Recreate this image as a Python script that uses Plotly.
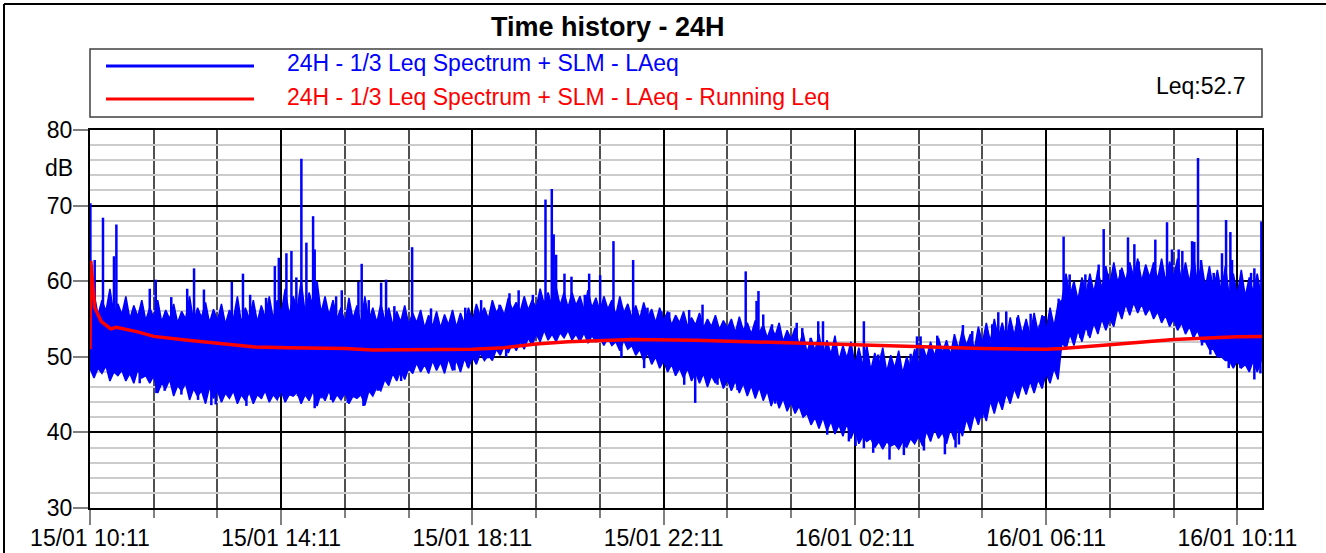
import pandas as pd
import plotly.graph_objects as go

START = pd.Timestamp("2020-01-15 10:11")
END_MIN = 1471

# ---- LAeq dense core band: 10-minute bins (minutes after 15/01 10:11) ----
band_min = list(range(0, 1480, 10))
band_high = [
    56.0, 55.5, 56.0, 55.5, 55.6, 55.0, 55.3, 54.8, 55.2, 54.6,
    55.0, 54.5, 55.0, 54.6, 55.2, 54.5, 54.8, 54.3, 55.0, 54.5,
    55.0, 54.6, 55.2, 55.0, 55.8, 55.5, 56.2, 55.8, 56.5, 55.8,
    55.5, 55.0, 54.5, 55.0, 54.3, 54.8, 54.5, 54.8, 54.2, 54.6,
    54.3, 54.5, 53.8, 54.0, 53.8, 54.2, 53.9, 54.3, 54.8, 55.3,
    55.0, 55.8, 55.5, 56.2, 56.0, 56.2, 56.5, 57.0, 56.5, 56.8,
    56.5, 56.8, 56.2, 56.5, 56.0, 56.3, 55.5, 55.8, 55.2, 55.0,
    55.2, 54.5, 54.8, 54.2, 54.5, 54.0, 54.2, 53.8, 54.0, 53.6,
    53.8, 53.2, 53.5, 53.0, 53.2, 52.5, 52.8, 52.0, 52.3, 51.5,
    50.5, 50.8, 50.0, 50.3, 49.5, 49.8, 49.0, 48.8, 48.2, 48.8,
    48.0, 48.5, 47.8, 48.5, 48.8, 49.8, 50.0, 50.5, 50.2, 51.0,
    51.5, 51.0, 51.8, 52.0, 52.5, 52.2, 52.8, 53.0, 52.8, 53.2,
    53.5, 54.0, 57.5, 58.0, 57.5, 58.2, 58.5, 59.0, 59.5, 59.8,
    60.0, 60.5, 60.0, 60.5, 60.2, 60.0, 60.5, 60.0, 59.8, 59.5,
    59.2, 58.8, 58.5, 58.0, 58.2, 58.0, 58.5, 58.0,
]
band_low = [
    48.5, 48.5, 48.8, 48.0, 48.2, 47.8, 48.3, 47.5, 47.5, 46.5,
    47.0, 46.2, 46.5, 45.8, 45.5, 46.0, 45.5, 45.2, 45.5, 45.0,
    45.3, 45.0, 45.5, 45.0, 45.5, 45.0, 45.3, 45.0, 45.5, 45.2,
    45.5, 45.0, 45.2, 44.8, 45.0, 45.5, 46.0, 47.0, 47.8, 48.2,
    48.5, 49.2, 49.0, 49.5, 49.3, 49.8, 49.5, 49.8, 50.0, 50.5,
    50.2, 51.0, 51.5, 51.8, 52.0, 52.5, 53.0, 53.5, 53.0, 53.2,
    53.5, 53.0, 53.2, 52.8, 52.5, 52.5, 52.0, 52.2, 51.5, 51.0,
    50.5, 50.0, 49.5, 49.0, 48.5, 48.5, 48.0, 47.8, 47.5, 47.5,
    47.0, 46.8, 46.5, 46.2, 46.0, 45.5, 45.0, 44.5, 44.0, 43.5,
    42.5, 42.0, 42.0, 41.5, 41.0, 41.2, 40.5, 39.5, 39.2, 38.8,
    38.8, 38.5, 38.8, 39.2, 39.5, 40.2, 40.5, 40.0, 40.5, 41.0,
    41.8, 42.5, 43.0, 44.2, 44.5, 45.2, 45.8, 46.5, 46.8, 47.0,
    47.8, 48.5, 52.0, 53.0, 53.5, 54.0, 54.5, 55.0, 55.0, 56.5,
    57.0, 57.2, 57.0, 56.5, 56.0, 55.5, 55.0, 54.5, 54.0, 53.5,
    52.0, 51.0, 50.0, 49.5, 49.5, 49.0, 49.5, 49.5,
]

# ---- LAeq fringe (hairy edge) levels, at the mid-points of the bins ----
fringe_min = list(range(5, 1470, 10))
fringe_high = [
    58.5, 57.5, 59.0, 57.0, 58.0, 56.8, 57.5, 56.5,
    57.5, 56.2, 57.0, 56.0, 58.0, 56.5, 57.2, 56.3,
    57.0, 56.2, 58.0, 56.5, 57.5, 56.8, 58.0, 57.5,
    59.0, 58.0, 60.0, 58.5, 60.0, 58.0,
    57.5, 56.5, 57.8, 56.8, 58.0, 56.5,
    57.0, 56.5, 56.0, 56.8, 55.8, 56.2, 55.5, 56.0, 55.6, 56.2, 55.8, 56.5,
    57.0, 56.5, 57.5, 56.8, 57.8, 57.2, 58.0, 57.5,
    59.0, 58.5, 59.2, 58.5,
    58.5, 58.0, 58.8, 57.8, 58.0, 57.5, 58.0, 57.0, 56.8, 57.2, 56.3, 56.5,
    56.0, 55.5, 56.0, 55.2, 55.8, 55.0, 55.5, 54.8, 55.0, 55.3, 54.5, 54.8,
    54.2, 54.0, 54.5, 53.5, 53.8, 53.2,
    52.5, 53.0, 52.2, 52.8, 51.5, 52.0, 51.2, 51.5, 50.5, 51.2, 50.2, 50.8,
    50.0, 51.0, 51.5,
    52.0, 52.5, 52.2, 53.0, 53.5, 53.0, 54.0, 54.5, 55.0, 54.5, 55.2, 55.5,
    55.0, 55.8, 55.5, 56.5, 57.0,
    61.0, 60.0, 60.5, 61.0, 61.5, 62.0, 62.5, 61.8, 62.5, 63.0, 62.2, 62.5,
    63.0, 62.6,
    63.0, 62.5, 63.5, 62.5, 62.0, 61.5, 62.0, 61.0, 61.5, 60.5, 61.0,
]
fringe_low = [
    47.2, 47.8, 46.8, 47.5, 46.8, 46.5, 47.2, 46.5,
    45.2, 45.8, 44.8, 45.5, 44.3, 44.8, 43.8, 44.5,
    44.0, 44.5, 43.8, 44.2, 43.8, 44.5, 44.0, 44.3,
    44.0, 44.8, 43.8, 44.2, 43.5, 44.2,
    44.0, 44.3, 43.8, 44.5, 43.6, 44.8,
    45.5, 46.2, 46.8, 47.0, 47.8, 48.0, 47.8, 48.2, 47.8, 48.2, 48.0, 48.5,
    49.0, 49.5, 49.5, 50.2, 50.5, 50.8, 51.0, 51.5,
    52.0, 52.2, 52.0, 52.5,
    52.2, 52.0, 51.8, 52.0, 51.5, 51.5, 50.8, 51.0, 50.2, 49.5, 49.0, 48.5,
    48.0, 47.5, 47.2, 46.8, 46.5, 46.0, 46.5, 45.8, 45.5, 45.2, 44.8, 44.5,
    44.2, 43.5, 43.2, 42.8, 42.5, 42.0,
    41.0, 40.5, 40.2, 39.8, 39.5, 39.2, 38.5, 38.8, 38.0, 37.8, 38.2, 37.8,
    38.0, 38.5, 38.2,
    38.8, 39.2, 38.5, 39.0, 39.5, 40.2, 41.0, 41.5, 42.5, 43.0, 43.8, 44.5,
    45.0, 45.2, 45.8, 46.5, 47.0,
    51.0, 51.5, 52.0, 52.5, 53.0, 53.5, 54.0, 55.0, 55.5, 55.8, 55.5, 55.0,
    54.5, 54.0,
    53.5, 53.0, 52.5, 52.0, 51.0, 50.0, 49.5, 48.5, 48.5, 48.0, 48.0,
]

# ---- LAeq individual peaks above the band ----
peak_min = [
    0.5, 5.9, 16.3, 30.1, 33.1, 75, 82.5, 102, 122, 130.6, 143, 178, 192, 201,
    221, 232, 237, 246.5, 252.8, 259, 265.3, 271.6, 280, 282, 308.9, 316, 336.9,
    341, 349.9, 365.4, 371.6, 382, 404.3, 428, 471, 490.9, 514, 526.5, 538, 555.8,
    571.7, 579.6, 582, 585, 595.5, 604.3, 621, 626.5, 640.3, 657, 668, 681.7,
    699.7, 717.3, 727, 752, 768.8, 823, 836.6, 839, 845, 856, 887, 894, 904.4,
    914, 920, 971.3, 989.3, 994, 1030, 1038, 1042.5, 1063.4, 1095.6, 1107.3,
    1132.4, 1140, 1150, 1163.8, 1180.6, 1191.9, 1197.8, 1215.8, 1222, 1229.6,
    1249.3, 1266, 1272.3, 1277.7, 1293.2, 1302.8, 1310.8, 1316.2, 1337.1, 1351.8,
    1358, 1366.4, 1371, 1383.2, 1386, 1390.7, 1394.5, 1410.4, 1420.8, 1425.9,
    1431.3, 1433.4, 1457.3, 1461.4, 1470.2,
]
peak_db = [
    70.3, 62.8, 68.4, 63.3, 67.5, 59.0, 60.2, 57.9, 59.0, 61.7, 58.9, 59.9, 61.0, 58.2,
    57.8, 62.0, 63.1, 63.7, 64.0, 60.5, 76.2, 65.1, 68.6, 64.2, 58.0, 58.8, 59.9,
    62.3, 57.5, 59.8, 60.2, 56.7, 64.5, 56.4, 56.5, 57.5, 56.9, 58.4, 58.8, 58.2,
    70.8, 72.2, 66.2, 63.5, 61.0, 60.6, 58.2, 61.0, 60.8, 65.3, 56.5, 62.8,
    56.5, 56.0, 55.9, 56.2, 56.9, 61.3, 57.4, 58.7, 55.6, 54.3, 54.5, 53.8, 52.5,
    54.7, 54.7, 54.7, 50.3, 50.5, 50.4, 52.7, 52.7, 52.8, 54.2, 53.4,
    54.3, 55.9, 56.0, 55.2, 55.7, 54.2, 55.4, 57.7, 65.9, 60.9,
    60.9, 62.2, 66.9, 61.0, 61.5, 65.8, 64.9, 62.6, 65.5, 67.8,
    64.2, 64.2, 64.0, 65.3, 65.2, 76.3, 62.8, 61.1, 63.7, 68.1,
    66.5, 62.8, 61.1, 61.7, 67.9,
]

# ---- LAeq individual dips below the band ----
dip_min = [
    24.7, 62.4, 83.3, 93.7, 114.7, 135.6, 152.3, 157.8, 196.3, 215, 238, 261, 282,
    290.5, 302.6, 323.5, 343.2, 361.2, 390.5, 414.7, 444.9, 457.4, 474, 499.3,
    522.3, 667, 695.5, 745.8, 759.6, 787.6, 812.7, 860, 885, 894.6, 925.3, 952.5,
    960.9, 971.3, 983, 1003.5, 1021.5, 1046.7, 1073, 1086.4, 1090.6, 1119.9,
    1136.6, 1153.4, 1183.5, 1226.2, 1243, 1253.4, 1395.7, 1406.2, 1429.2, 1443.9,
    1461.4, 1469,
]
dip_db = [
    47.2, 46.5, 45.2, 45.5, 45.0, 44.3, 43.6, 43.7, 43.5, 44.5, 44.7, 44.8, 43.2,
    44.5, 44.3, 43.9, 43.5, 45.5, 46.8, 48.7, 48.5, 48.2, 48.7, 49.8,
    50.0, 49.9, 48.5, 46.3, 43.9, 46.3, 45.6, 43.8, 42.9, 42.6, 39.7, 38.8,
    38.2, 37.9, 37.3, 36.4, 37.0, 37.6, 37.1, 38.0, 38.4, 41.9,
    44.3, 44.8, 46.8, 52.0, 52.5, 52.8, 51.5, 50.3, 48.5, 48.5,
    47.0, 47.8,
]

# ---- Running Leq ----
run_min = [0, 1, 6, 14, 26, 33, 60, 80, 123, 165, 207, 249, 300, 320, 355, 400,
           480, 520, 560, 600, 640, 680, 760, 840, 880, 960, 1040, 1120, 1200,
           1220, 1280, 1360, 1440, 1471]
run_db = [51.0, 62.7, 56.5, 54.7, 53.7, 53.9, 53.3, 52.7, 52.2, 51.7, 51.3, 51.2,
          51.2, 51.1, 50.9, 50.9, 51.0, 51.2, 51.7, 52.0, 52.2, 52.3, 52.2, 51.95,
          51.8, 51.6, 51.3, 51.1, 51.0, 51.1, 51.6, 52.3, 52.65, 52.7]

title_text = "Time history - 24H"
legend_names = ["24H - 1/3 Leq Spectrum + SLM - LAeq",
                "24H - 1/3 Leq Spectrum + SLM - LAeq - Running Leq"]
leq_text = "Leq:52.7"
y_ticks = [30, 40, 50, 60, 70, 80]

BLUE = "#0000FF"
RED = "#FF0000"
FONT = "Liberation Sans, Arial, sans-serif"


def to_time(mins):
    return [START + pd.Timedelta(minutes=float(m)) for m in mins]


# upper / lower outlines: interleave core bin values with fringe mid-points
upper = sorted(list(zip(band_min, band_high)) + list(zip(fringe_min, fringe_high)))
lower = sorted(list(zip(band_min, band_low)) + list(zip(fringe_min, fringe_low)))
poly_x = to_time([m for m, _ in upper]) + to_time([m for m, _ in lower][::-1])
poly_y = [v for _, v in upper] + [v for _, v in lower][::-1]

fig = go.Figure()

fig.add_trace(go.Scatter(
    x=poly_x, y=poly_y, fill="toself", fillcolor=BLUE, mode="lines",
    line=dict(color=BLUE, width=1.5), showlegend=False, hoverinfo="skip"))

# needles (peaks and dips) drawn from the middle of the nearest bin
sx, sy = [], []
for mins, vals in ((peak_min, peak_db), (dip_min, dip_db)):
    for m, v in zip(mins, vals):
        i = min(int(round(m / 10)), len(band_min) - 1)
        base = (band_low[i] + band_high[i]) / 2
        t = START + pd.Timedelta(minutes=float(m))
        sx += [t, t, None]
        sy += [base, v, None]
fig.add_trace(go.Scatter(x=sx, y=sy, mode="lines",
                         line=dict(color=BLUE, width=2.5),
                         showlegend=False, hoverinfo="skip", connectgaps=False))

fig.add_trace(go.Scatter(x=to_time(run_min), y=run_db, mode="lines",
                         line=dict(color=RED, width=3.5), showlegend=False))

L, R, T, B = 90, 1262, 130, 508
W, H = R - L, B - T


def px(x):
    return (x - L) / W


def py(y):
    return (B - y) / H


shapes = [
    dict(type="line", xref="paper", yref="paper", x0=px(4), x1=px(4), y0=py(560), y1=py(4),
         line=dict(color="black", width=2)),
    dict(type="line", xref="paper", yref="paper", x0=px(4), x1=px(1335), y0=py(4), y1=py(4),
         line=dict(color="black", width=2)),
    dict(type="rect", xref="paper", yref="paper", x0=px(90), x1=px(1262), y0=py(117), y1=py(49),
         line=dict(color="#404040", width=1.5), fillcolor="white"),
    dict(type="line", xref="paper", yref="paper", x0=px(106), x1=px(254), y0=py(66), y1=py(66),
         line=dict(color=BLUE, width=3)),
    dict(type="line", xref="paper", yref="paper", x0=px(106), x1=px(254), y0=py(99), y1=py(99),
         line=dict(color=RED, width=3)),
]

annotations = [
    dict(text=f"<b>{title_text}</b>", xref="paper", yref="paper", x=px(608), y=py(27),
         xanchor="center", yanchor="middle", showarrow=False,
         font=dict(family=FONT, size=27, color="black")),
    dict(text=legend_names[0], xref="paper", yref="paper", x=px(285), y=py(63),
         xanchor="left", yanchor="middle", showarrow=False,
         font=dict(family=FONT, size=23, color=BLUE)),
    dict(text=legend_names[1], xref="paper", yref="paper", x=px(285), y=py(97),
         xanchor="left", yanchor="middle", showarrow=False,
         font=dict(family=FONT, size=23, color=RED)),
    dict(text=leq_text, xref="paper", yref="paper", x=px(1248), y=py(86),
         xanchor="right", yanchor="middle", showarrow=False,
         font=dict(family=FONT, size=23, color="black")),
    dict(text="dB", xref="paper", yref="y", x=px(75), y=75,
         xanchor="right", yanchor="middle", showarrow=False,
         font=dict(family=FONT, size=23, color="black")),
]

fig.update_layout(
    width=1326, height=553,
    margin=dict(l=L, r=1326 - R, t=T, b=553 - B, pad=0, autoexpand=False),
    paper_bgcolor="white", plot_bgcolor="white",
    font=dict(family=FONT, size=23, color="black"),
    shapes=shapes, annotations=annotations,
    showlegend=False,
)

fig.update_xaxes(
    type="date", automargin=False,
    range=[START, START + pd.Timedelta(minutes=END_MIN)],
    tick0=START, dtick=4 * 3600 * 1000, tickformat="%d/%m %H:%M",
    ticks="outside", ticklen=15, tickwidth=1.5, tickcolor="#808080",
    ticklabelstandoff=-7,
    showgrid=True, gridcolor="black", gridwidth=2,
    showline=True, linecolor="black", linewidth=2, mirror=True,
    zeroline=False,
    tickfont=dict(family=FONT, size=23, color="black"),
    minor=dict(tick0=START, dtick=80 * 60 * 1000, showgrid=True,
               gridcolor="#505050", gridwidth=1.5,
               ticks="outside", ticklen=8, tickcolor="#808080", tickwidth=1.5),
)
fig.update_yaxes(
    automargin=False,
    range=[30, 80], tickvals=y_ticks,
    ticks="outside", ticklen=15, tickwidth=1.5, tickcolor="#808080",
    ticklabelstandoff=-4,
    showgrid=True, gridcolor="black", gridwidth=2,
    showline=True, linecolor="black", linewidth=2, mirror=True,
    zeroline=False,
    tickfont=dict(family=FONT, size=23, color="black"),
    minor=dict(dtick=2, showgrid=True, gridcolor="#cccccc", gridwidth=2, ticks=""),
)

fig.write_html("out.html", config={"displayModeBar": False},
               post_script="document.body.style.margin='0';")
